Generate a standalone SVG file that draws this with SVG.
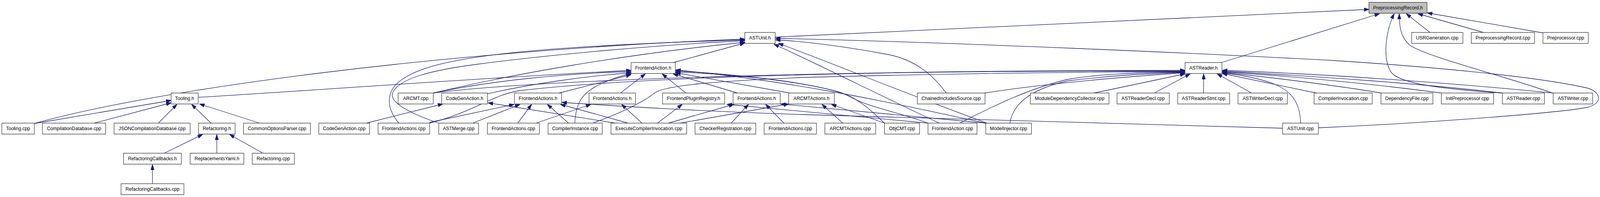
<svg xmlns="http://www.w3.org/2000/svg" width="4376" height="504" viewBox="0 0 4376 504">
<style>
.node rect{fill:#ffffff;stroke:#333333;stroke-width:1.3}
.node.root rect{fill:#bfbfbf}
.node text{font-family:"Liberation Sans",Arial,Helvetica,sans-serif;font-size:13px;fill:#000000;text-anchor:middle}
.edge{fill:none;stroke:#191970;stroke-width:1.3;marker-end:url(#ah)}
</style>
<defs>
<marker id="ah" viewBox="0 0 14 10" refX="13.5" refY="5" markerWidth="14" markerHeight="10" markerUnits="userSpaceOnUse" orient="auto">
<path d="M0,0.4 L14,5 L0,9.6 z" fill="#191970" stroke="#191970" stroke-width="1"/>
</marker>
</defs>
<rect x="0" y="0" width="4376" height="504" fill="#ffffff"/>
<g id="diagram" transform="scale(0.936015,1)">
<g id="edges">
<path class="edge" d="M94,316 L468,257"/>
<path class="edge" d="M94,316 C420,230 1200,130 2037,100"/>
<path class="edge" d="M258,315 L468,263"/>
<path class="edge" d="M433,315 L484,267"/>
<path class="edge" d="M577,315 L524,267"/>
<path class="edge" d="M710,315 L546,266"/>
<path class="edge" d="M449,392 L554,344"/>
<path class="edge" d="M593,392 L593,344"/>
<path class="edge" d="M719,392 L628,344"/>
<path class="edge" d="M417,470 L417,421"/>
<path class="edge" d="M542,249 C800,235 1300,200 1726,180"/>
<path class="edge" d="M1002,315 L1211,266"/>
<path class="edge" d="M1683,315 L1335,263"/>
<path class="edge" d="M1333,240 C1450,215 1600,195 1726,186"/>
<path class="edge" d="M1185,238 C1400,190 1700,140 2037,108"/>
<path class="edge" d="M1185,238 C1350,205 1550,188 1726,183"/>
<path class="edge" d="M1185,238 C1500,200 2400,180 3241,180"/>
<path class="edge" d="M1175,315 C1300,285 1340,245 1420,232 C1800,190 2600,180 3241,182"/>
<path class="edge" d="M1091,315 C1050,270 1060,228 1100,203 C1180,150 1400,120 2037,102"/>
<path class="edge" d="M1175,313 L1406,267"/>
<path class="edge" d="M1200,315 C1120,290 1060,260 1075,235 C1095,200 1180,180 1300,165 C1500,140 1800,115 2037,104"/>
<path class="edge" d="M1293,315 L1422,267"/>
<path class="edge" d="M1416,315 L1454,267"/>
<path class="edge" d="M1466,315 L1616,267"/>
<path class="edge" d="M1555,315 L1497,267"/>
<path class="edge" d="M1572,315 C1575,265 1590,235 1650,212 C1680,200 1700,193 1726,188"/>
<path class="edge" d="M1621,315 C1710,285 1760,260 1790,238 C1820,218 1950,208 2200,198 C2600,188 3000,184 3241,183"/>
<path class="edge" d="M1718,315 L1533,267"/>
<path class="edge" d="M1756,315 L1700,267"/>
<path class="edge" d="M1798,315 L1866,267"/>
<path class="edge" d="M1828,315 L2007,267"/>
<path class="edge" d="M1860,315 L2157,266"/>
<path class="edge" d="M2000,315 L2047,267"/>
<path class="edge" d="M2144,315 L2094,267"/>
<path class="edge" d="M2305,315 L2248,267"/>
<path class="edge" d="M2419,315 L2274,267"/>
<path class="edge" d="M2419,315 C2390,290 2350,250 2290,234 C2200,212 2050,192 1848,184"/>
<path class="edge" d="M2160,238 L1848,186"/>
<path class="edge" d="M2538,315 C2450,285 2380,275 2330,250 C2280,222 2100,195 1848,181"/>
<path class="edge" d="M2696,315 C2400,255 2150,205 1848,179"/>
<path class="edge" d="M2569,315 C2420,250 2250,170 2117,113"/>
<path class="edge" d="M2700,315 C2450,230 2300,170 2129,111"/>
<path class="edge" d="M2588,238 C2550,190 2500,150 2420,138 C2330,122 2200,105 2121,102"/>
<path class="edge" d="M2694,238 C2800,222 2950,205 3241,186"/>
<path class="edge" d="M2625,315 C2700,280 2800,230 2920,203 C3000,190 3100,186 3241,184"/>
<path class="edge" d="M2762,315 C2770,270 2810,230 2920,207 C3050,192 3150,188 3241,185"/>
<path class="edge" d="M2538,315 L1988,267"/>
<path class="edge" d="M2696,315 L2135,266"/>
<path class="edge" d="M3508,328 C3200,321 2600,303 2190,293 C1900,284 1700,272 1537,262"/>
<path class="edge" d="M3606,327 C3900,315 4250,290 4340,275 C4385,265 4380,235 4340,225 C4200,195 3900,170 3650,155 C3300,137 2600,108 2121,98"/>
<path class="edge" d="M3557,315 C3556,270 3540,235 3480,213 C3430,197 3380,190 3343,187"/>
<path class="edge" d="M2992,238 L3241,189"/>
<path class="edge" d="M3157,238 L3255,189"/>
<path class="edge" d="M3292,238 L3292,189"/>
<path class="edge" d="M3423,238 L3329,189"/>
<path class="edge" d="M3600,238 L3343,188"/>
<path class="edge" d="M3777,238 C3700,225 3500,200 3343,185"/>
<path class="edge" d="M3942,238 C3800,220 3550,195 3343,184"/>
<path class="edge" d="M4109,238 C3900,215 3600,195 3343,182"/>
<path class="edge" d="M4248,238 C4000,215 3650,190 3343,180"/>
<path class="edge" d="M4108,238 C3950,228 3830,215 3805,185 C3780,150 3790,80 3813,35"/>
<path class="edge" d="M4246,238 C4100,190 3900,145 3855,115 C3830,95 3827,65 3827,35"/>
<path class="edge" d="M3341,160 L3773,35"/>
<path class="edge" d="M2120,95 L3744,24"/>
<path class="edge" d="M3911,83 L3846,35"/>
<path class="edge" d="M4057,83 L3878,35"/>
<path class="edge" d="M4219,84 L3904,33"/>
<path class="edge" d="M1697,238 L1765,189"/>
<path class="edge" d="M1876,238 L1811,189"/>
<path class="edge" d="M2017,238 L1841,189"/>
<path class="edge" d="M1529,238 L1726,191"/>
<path class="edge" d="M1842,160 L2037,110"/>
</g>
<g id="node-PreprocessingRecord-h" class="node root"><rect x="3744" y="6" width="159" height="28"/><text x="3823.5" y="24.5">PreprocessingRecord.h</text></g>
<g id="node-ASTUnit-h" class="node"><rect x="2037" y="83" width="83" height="28"/><text x="2078.5" y="101.5">ASTUnit.h</text></g>
<g id="node-USRGeneration-cpp" class="node"><rect x="3861" y="83" width="140" height="28"/><text x="3931" y="101.5">USRGeneration.cpp</text></g>
<g id="node-PreprocessingRecord-cpp" class="node"><rect x="4024" y="83" width="173" height="28"/><text x="4110.5" y="101.5">PreprocessingRecord.cpp</text></g>
<g id="node-Preprocessor-cpp" class="node"><rect x="4220" y="83" width="124" height="28"/><text x="4282" y="101.5">Preprocessor.cpp</text></g>
<g id="node-FrontendAction-h" class="node"><rect x="1726" y="160" width="121" height="28"/><text x="1786.5" y="178.5">FrontendAction.h</text></g>
<g id="node-ASTReader-h" class="node"><rect x="3241" y="160" width="101" height="28"/><text x="3291.5" y="178.5">ASTReader.h</text></g>
<g id="node-Tooling-h" class="node"><rect x="468" y="238" width="74" height="28"/><text x="505" y="256.5">Tooling.h</text></g>
<g id="node-ARCMT-cpp" class="node"><rect x="1089" y="238" width="96" height="28"/><text x="1137" y="256.5">ARCMT.cpp</text></g>
<g id="node-CodeGenAction-h" class="node"><rect x="1208" y="238" width="125" height="28"/><text x="1270.5" y="256.5">CodeGenAction.h</text></g>
<g id="node-FrontendActions-h-1" class="node"><rect x="1407" y="238" width="129" height="28"/><text x="1471.5" y="256.5">FrontendActions.h</text></g>
<g id="node-FrontendActions-h-2" class="node"><rect x="1611" y="238" width="127" height="28"/><text x="1674.5" y="256.5">FrontendActions.h</text></g>
<g id="node-FrontendPluginRegistry-h" class="node"><rect x="1812" y="238" width="170" height="28"/><text x="1897" y="256.5">FrontendPluginRegistry.h</text></g>
<g id="node-FrontendActions-h-3" class="node"><rect x="2005" y="238" width="129" height="28"/><text x="2069.5" y="256.5">FrontendActions.h</text></g>
<g id="node-ARCMTActions-h" class="node"><rect x="2157" y="238" width="125" height="28"/><text x="2219.5" y="256.5">ARCMTActions.h</text></g>
<g id="node-ChainedIncludesSource-cpp" class="node"><rect x="2509" y="238" width="185" height="28"/><text x="2601.5" y="256.5">ChainedIncludesSource.cpp</text></g>
<g id="node-ModuleDependencyCollector-cpp" class="node"><rect x="2818" y="238" width="215" height="28"/><text x="2925.5" y="256.5">ModuleDependencyCollector.cpp</text></g>
<g id="node-ASTReaderDecl-cpp" class="node"><rect x="3055" y="238" width="143" height="28"/><text x="3126.5" y="256.5">ASTReaderDecl.cpp</text></g>
<g id="node-ASTReaderStmt-cpp" class="node"><rect x="3221" y="238" width="142" height="28"/><text x="3292" y="256.5">ASTReaderStmt.cpp</text></g>
<g id="node-ASTWriterDecl-cpp" class="node"><rect x="3386" y="238" width="135" height="28"/><text x="3453.5" y="256.5">ASTWriterDecl.cpp</text></g>
<g id="node-CompilerInvocation-cpp" class="node"><rect x="3594" y="238" width="159" height="28"/><text x="3673.5" y="256.5">CompilerInvocation.cpp</text></g>
<g id="node-DependencyFile-cpp" class="node"><rect x="3777" y="238" width="142" height="28"/><text x="3848" y="256.5">DependencyFile.cpp</text></g>
<g id="node-InitPreprocessor-cpp" class="node"><rect x="3942" y="238" width="143" height="28"/><text x="4013.5" y="256.5">InitPreprocessor.cpp</text></g>
<g id="node-ASTReader-cpp" class="node"><rect x="4109" y="238" width="115" height="28"/><text x="4166.5" y="256.5">ASTReader.cpp</text></g>
<g id="node-ASTWriter-cpp" class="node"><rect x="4248" y="238" width="108" height="28"/><text x="4302" y="256.5">ASTWriter.cpp</text></g>
<g id="node-Tooling-cpp" class="node"><rect x="5" y="315" width="89" height="28"/><text x="49.5" y="333.5">Tooling.cpp</text></g>
<g id="node-CompilationDatabase-cpp" class="node"><rect x="116" y="315" width="173" height="28"/><text x="202.5" y="333.5">CompilationDatabase.cpp</text></g>
<g id="node-JSONCompilationDatabase-cpp" class="node"><rect x="312" y="315" width="208" height="28"/><text x="416" y="333.5">JSONCompilationDatabase.cpp</text></g>
<g id="node-Refactoring-h" class="node"><rect x="543" y="315" width="100" height="28"/><text x="593" y="333.5">Refactoring.h</text></g>
<g id="node-CommonOptionsParser-cpp" class="node"><rect x="666" y="315" width="183" height="28"/><text x="757.5" y="333.5">CommonOptionsParser.cpp</text></g>
<g id="node-CodeGenAction-cpp" class="node"><rect x="872" y="315" width="139" height="28"/><text x="941.5" y="333.5">CodeGenAction.cpp</text></g>
<g id="node-FrontendActions-cpp-1" class="node"><rect x="1034" y="315" width="141" height="28"/><text x="1104.5" y="333.5">FrontendActions.cpp</text></g>
<g id="node-ASTMerge-cpp" class="node"><rect x="1200" y="315" width="109" height="28"/><text x="1254.5" y="333.5">ASTMerge.cpp</text></g>
<g id="node-FrontendActions-cpp-2" class="node"><rect x="1333" y="315" width="142" height="28"/><text x="1404" y="333.5">FrontendActions.cpp</text></g>
<g id="node-CompilerInstance-cpp" class="node"><rect x="1499" y="315" width="148" height="28"/><text x="1573" y="333.5">CompilerInstance.cpp</text></g>
<g id="node-ExecuteCompilerInvocation-cpp" class="node"><rect x="1671" y="315" width="207" height="28"/><text x="1774.5" y="333.5">ExecuteCompilerInvocation.cpp</text></g>
<g id="node-CheckerRegistration-cpp" class="node"><rect x="1901" y="315" width="166" height="28"/><text x="1984" y="333.5">CheckerRegistration.cpp</text></g>
<g id="node-FrontendActions-cpp-3" class="node"><rect x="2090" y="315" width="143" height="28"/><text x="2161.5" y="333.5">FrontendActions.cpp</text></g>
<g id="node-ARCMTActions-cpp" class="node"><rect x="2256" y="315" width="139" height="28"/><text x="2325.5" y="333.5">ARCMTActions.cpp</text></g>
<g id="node-ObjCMT-cpp" class="node"><rect x="2419" y="315" width="96" height="28"/><text x="2467" y="333.5">ObjCMT.cpp</text></g>
<g id="node-FrontendAction-cpp" class="node"><rect x="2538" y="315" width="134" height="28"/><text x="2605" y="333.5">FrontendAction.cpp</text></g>
<g id="node-ModelInjector-cpp" class="node"><rect x="2696" y="315" width="125" height="28"/><text x="2758.5" y="333.5">ModelInjector.cpp</text></g>
<g id="node-ASTUnit-cpp" class="node"><rect x="3508" y="315" width="98" height="28"/><text x="3557" y="333.5">ASTUnit.cpp</text></g>
<g id="node-RefactoringCallbacks-h" class="node"><rect x="338" y="392" width="158" height="28"/><text x="417" y="410.5">RefactoringCallbacks.h</text></g>
<g id="node-ReplacementsYaml-h" class="node"><rect x="520" y="392" width="147" height="28"/><text x="593.5" y="410.5">ReplacementsYaml.h</text></g>
<g id="node-Refactoring-cpp" class="node"><rect x="690" y="392" width="115" height="28"/><text x="747.5" y="410.5">Refactoring.cpp</text></g>
<g id="node-RefactoringCallbacks-cpp" class="node"><rect x="331" y="470" width="172" height="28"/><text x="417" y="488.5">RefactoringCallbacks.cpp</text></g>
</g>
</svg>
